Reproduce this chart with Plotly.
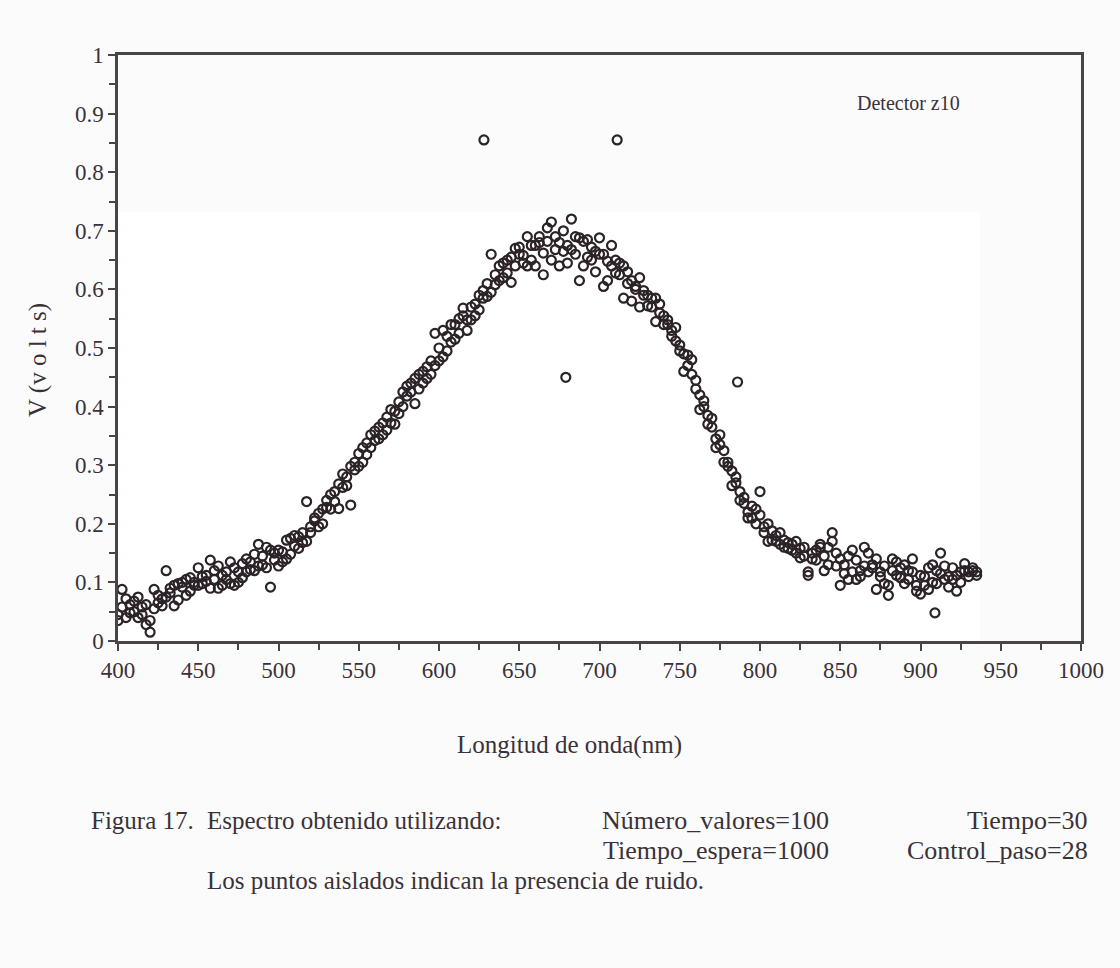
import plotly.graph_objects as go

# ---------------- data ----------------
wavelength_nm = [
    400, 402.5, 405, 407.5, 410, 412.5, 415, 417.5, 420, 422.5, 425, 427.5,
    430, 432.5, 435, 437.5, 440, 442.5, 445, 447.5, 450, 452.5, 455, 457.5,
    460, 462.5, 465, 467.5, 470, 472.5, 475, 477.5, 480, 482.5, 485, 487.5,
    490, 492.5, 495, 497.5, 500, 502.5, 505, 507.5, 510, 512.5, 515, 517.5,
    520, 522.5, 525, 527.5, 530, 532.5, 535, 537.5, 540, 542.5, 545, 547.5,
    550, 552.5, 555, 557.5, 560, 562.5, 565, 567.5, 570, 572.5, 575, 577.5,
    580, 582.5, 585, 587.5, 590, 592.5, 595, 597.5, 600, 602.5, 605, 607.5,
    610, 612.5, 615, 617.5, 620, 622.5, 625, 627.5, 630, 632.5, 635, 637.5,
    640, 642.5, 645, 647.5, 650, 652.5, 655, 657.5, 660, 662.5, 665, 667.5,
    670, 672.5, 675, 677.5, 680, 682.5, 685, 687.5, 690, 692.5, 695, 697.5,
    700, 702.5, 705, 707.5, 710, 712.5, 715, 717.5, 720, 722.5, 725, 727.5,
    730, 732.5, 735, 737.5, 740, 742.5, 745, 747.5, 750, 752.5, 755, 757.5,
    760, 762.5, 765, 767.5, 770, 772.5, 775, 777.5, 780, 782.5, 785, 787.5,
    790, 792.5, 795, 797.5, 800, 802.5, 805, 807.5, 810, 812.5, 815, 817.5,
    820, 822.5, 825, 827.5, 830, 832.5, 835, 837.5, 840, 842.5, 845, 847.5,
    850, 852.5, 855, 857.5, 860, 862.5, 865, 867.5, 870, 872.5, 875, 877.5,
    880, 882.5, 885, 887.5, 890, 892.5, 895, 897.5, 900, 902.5, 905, 907.5,
    910, 912.5, 915, 917.5, 920, 922.5, 925, 927.5, 930, 932.5, 935,
]

volts_scan1 = [
    0.045, 0.088, 0.040, 0.062, 0.050, 0.075, 0.045, 0.062, 0.015, 0.088, 0.065, 0.072,
    0.120, 0.082, 0.095, 0.070, 0.092, 0.105, 0.085, 0.100, 0.125, 0.098, 0.112, 0.090,
    0.105, 0.128, 0.095, 0.118, 0.135, 0.095, 0.118, 0.108, 0.118, 0.135, 0.148, 0.128,
    0.130, 0.160, 0.092, 0.150, 0.128, 0.152, 0.140, 0.175, 0.180, 0.158, 0.185, 0.170,
    0.195, 0.205, 0.218, 0.200, 0.240, 0.225, 0.255, 0.268, 0.285, 0.265, 0.298, 0.292,
    0.320, 0.305, 0.338, 0.352, 0.358, 0.345, 0.372, 0.382, 0.395, 0.370, 0.408, 0.425,
    0.418, 0.440, 0.405, 0.455, 0.460, 0.448, 0.478, 0.470, 0.500, 0.485, 0.520, 0.510,
    0.540, 0.525, 0.555, 0.548, 0.570, 0.555, 0.590, 0.598, 0.610, 0.595, 0.625, 0.640,
    0.645, 0.628, 0.655, 0.640, 0.660, 0.645, 0.690, 0.650, 0.675, 0.690, 0.662, 0.705,
    0.715, 0.668, 0.680, 0.700, 0.675, 0.720, 0.660, 0.688, 0.682, 0.655, 0.672, 0.665,
    0.688, 0.660, 0.648, 0.675, 0.650, 0.625, 0.640, 0.610, 0.615, 0.600, 0.620, 0.590,
    0.590, 0.570, 0.585, 0.560, 0.555, 0.540, 0.530, 0.512, 0.505, 0.490, 0.470, 0.480,
    0.445, 0.420, 0.400, 0.385, 0.365, 0.345, 0.335, 0.305, 0.305, 0.290, 0.270, 0.255,
    0.235, 0.220, 0.210, 0.225, 0.215, 0.195, 0.170, 0.188, 0.180, 0.165, 0.172, 0.158,
    0.165, 0.150, 0.158, 0.145, 0.112, 0.150, 0.138, 0.160, 0.145, 0.130, 0.185, 0.150,
    0.095, 0.130, 0.145, 0.118, 0.138, 0.110, 0.128, 0.150, 0.125, 0.140, 0.110, 0.098,
    0.078, 0.120, 0.135, 0.108, 0.130, 0.105, 0.118, 0.085, 0.080, 0.110, 0.125, 0.100,
    0.120, 0.150, 0.105, 0.092, 0.125, 0.085, 0.118, 0.132, 0.118, 0.125, 0.112,
]

volts_scan2 = [
    0.035, 0.058, 0.072, 0.048, 0.068, 0.040, 0.058, 0.028, 0.035, 0.055, 0.078, 0.060,
    0.075, 0.090, 0.060, 0.098, 0.100, 0.078, 0.108, 0.095, 0.095, 0.110, 0.102, 0.138,
    0.120, 0.090, 0.112, 0.105, 0.098, 0.125, 0.100, 0.132, 0.140, 0.122, 0.120, 0.165,
    0.145, 0.125, 0.155, 0.138, 0.155, 0.135, 0.172, 0.148, 0.162, 0.178, 0.168, 0.238,
    0.185, 0.210, 0.195, 0.225, 0.228, 0.250, 0.238, 0.226, 0.262, 0.280, 0.232, 0.305,
    0.298, 0.330, 0.318, 0.330, 0.342, 0.365, 0.352, 0.360, 0.372, 0.392, 0.388, 0.400,
    0.435, 0.425, 0.448, 0.430, 0.440, 0.468, 0.455, 0.525, 0.478, 0.530, 0.495, 0.540,
    0.515, 0.550, 0.568, 0.530, 0.548, 0.575, 0.565, 0.585, 0.588, 0.660, 0.608, 0.615,
    0.620, 0.650, 0.612, 0.670, 0.672, 0.658, 0.640, 0.675, 0.640, 0.680, 0.625, 0.682,
    0.650, 0.690, 0.640, 0.665, 0.645, 0.668, 0.690, 0.615, 0.640, 0.685, 0.650, 0.630,
    0.660, 0.605, 0.615, 0.640, 0.628, 0.645, 0.585, 0.630, 0.580, 0.605, 0.570, 0.598,
    0.572, 0.585, 0.545, 0.575, 0.540, 0.548, 0.520, 0.535, 0.495, 0.460, 0.488, 0.455,
    0.430, 0.395, 0.410, 0.370, 0.380, 0.330, 0.352, 0.325, 0.298, 0.265, 0.280, 0.240,
    0.245, 0.210, 0.230, 0.200, 0.255, 0.185, 0.200, 0.172, 0.170, 0.185, 0.160, 0.168,
    0.155, 0.170, 0.142, 0.160, 0.118, 0.140, 0.155, 0.165, 0.120, 0.160, 0.170, 0.128,
    0.140, 0.115, 0.105, 0.155, 0.105, 0.120, 0.160, 0.118, 0.130, 0.088, 0.118, 0.128,
    0.095, 0.140, 0.112, 0.125, 0.098, 0.120, 0.140, 0.095, 0.112, 0.095, 0.088, 0.130,
    0.098, 0.115, 0.128, 0.110, 0.105, 0.112, 0.100, 0.120, 0.110, 0.120, 0.118,
]

# isolated (noise) points
noise_nm = [628, 711, 679, 786, 909]
noise_volts = [0.855, 0.855, 0.450, 0.442, 0.048]

x_tick_vals = [400, 450, 500, 550, 600, 650, 700, 750, 800, 850, 900, 950, 1000]
y_tick_vals = [0, 0.1, 0.2, 0.3, 0.4, 0.5, 0.6, 0.7, 0.8, 0.9, 1]
y_tick_text = ["0", "0.1", "0.2", "0.3", "0.4", "0.5", "0.6", "0.7", "0.8", "0.9", "1"]

# ---------------- figure ----------------
W, H = 1120, 968
L, R, T, B = 118, 1081, 55, 641
FONT = "Liberation Serif, Times New Roman, serif"
INK = "#3a3238"
MARK = "#2b2327"
AXC = "#4a4448"
PAGE = "#fbfbfb"


def px_x(px):
    return (px - L) / (R - L)


def px_y(py):
    return (B - py) / (B - T)


all_x = wavelength_nm + wavelength_nm + noise_nm
all_y = volts_scan1 + volts_scan2 + noise_volts

fig = go.Figure()
fig.add_trace(go.Scatter(
    x=all_x, y=all_y, mode="markers",
    marker=dict(symbol="circle-open", size=9, color=MARK, line=dict(width=2.2, color=MARK)),
    showlegend=False, hoverinfo="skip",
))

axis_common = dict(
    showline=True, linewidth=2.5, linecolor=AXC, mirror=True,
    ticks="outside", ticklen=7, tickwidth=2, tickcolor=AXC,
    showgrid=False, zeroline=False,
    tickfont=dict(family=FONT, size=23, color=INK),
)

fig.update_xaxes(range=[400, 1000], tickvals=x_tick_vals,
                 minor=dict(dtick=25, ticks="outside", ticklen=6, tickwidth=2, tickcolor=AXC),
                 **axis_common)
fig.update_yaxes(range=[0, 1], tickvals=y_tick_vals, ticktext=y_tick_text,
                 minor=dict(dtick=0.05, ticks="outside", ticklen=6, tickwidth=2, tickcolor=AXC),
                 **axis_common)

# faint scan shading seen in the reference (upper band and right strip of the plot)
fig.add_shape(type="rect", xref="paper", yref="paper", x0=0, x1=1, y0=px_y(212), y1=1,
              fillcolor=PAGE, line_width=0, layer="below")
fig.add_shape(type="rect", xref="paper", yref="paper", x0=px_x(980), x1=1, y0=0, y1=px_y(212),
              fillcolor=PAGE, line_width=0, layer="below")

ann = []


def text(s, px, py, anchor="left", size=22, angle=0):
    ann.append(dict(text=s, x=px_x(px), y=px_y(py), xref="paper", yref="paper",
                    xanchor=anchor, yanchor="middle", showarrow=False, textangle=angle,
                    font=dict(family=FONT, size=size, color=INK)))


CAP = 25
text("Detector z10", 855, 103, "left", 20)
text("Longitud de onda(nm)", 569, 745, "center", 25)
text("V (v o l t s)", 38, 360, "center", 25, -90)
text("Figura 17.", 196, 820, "right", CAP)
text("Espectro obtenido utilizando:", 205, 820, "left", CAP)
text("Número_valores=100", 831, 820, "right", CAP + 1)
text("Tiempo=30", 1090, 820, "right", CAP + 1)
text("Tiempo_espera=1000", 831, 850, "right", CAP + 1)
text("Control_paso=28", 1090, 850, "right", CAP + 1)
text("Los puntos aislados indican la presencia de ruido.", 205, 880, "left", CAP)

fig.update_layout(
    width=W, height=H,
    margin=dict(l=L, r=W - R, t=T, b=H - B, pad=0),
    paper_bgcolor=PAGE, plot_bgcolor="#ffffff",
    annotations=ann,
)

fig.write_html("out.html")
